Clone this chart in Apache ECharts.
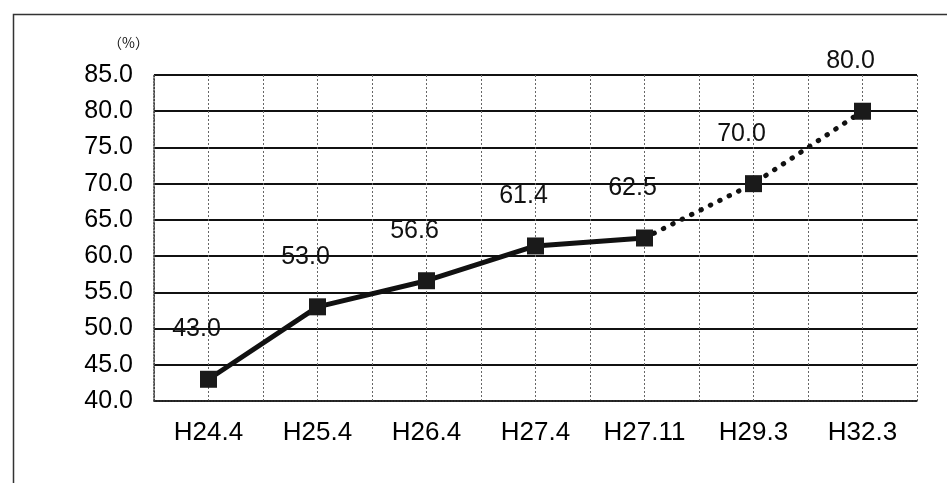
<!DOCTYPE html>
<html>
<head>
<meta charset="utf-8">
<script src="https://cdn.jsdelivr.net/npm/echarts@6/dist/echarts.min.js"></script>
<style>
html,body{margin:0;padding:0;background:#fff;}
#c{width:947px;height:483px;}
</style>
</head>
<body>
<div id="c"></div>
<script>
var categories = ['H24.4', 'H25.4', 'H26.4', 'H27.4', 'H27.11', 'H29.3', 'H32.3'];
var values = [43.0, 53.0, 56.6, 61.4, 62.5, 70.0, 80.0];
var actualCount = 5; // first 5 points are actual results, the rest are targets
var yTicks = [40, 45, 50, 55, 60, 65, 70, 75, 80, 85];
var unitLabel = '（%）';

var solidData = values.map(function (v, i) { return i < actualCount ? v : '-'; });
var dottedData = values.map(function (v, i) { return i >= actualCount - 1 ? v : '-'; });

var chart = echarts.init(document.getElementById('c'));
var font = 'Arial, "Liberation Sans", sans-serif';
chart.setOption({
  animation: false,
  backgroundColor: '#fff',
  grid: { left: 154, right: 30, top: 75, bottom: 82 },
  graphic: [
    { type: 'rect', left: 11, top: 12, shape: { width: 1000, height: 1000 },
      style: { fill: 'none', stroke: '#333', lineWidth: 1.5 }, z: 0 },
    { type: 'text', left: 108, top: 36,
      style: { text: unitLabel, font: '14px "Noto Sans CJK JP", sans-serif', fill: '#111' } }
  ],
  xAxis: [
    {
      type: 'category', data: categories, boundaryGap: true,
      axisLine: { show: true, lineStyle: { color: '#333', width: 1.5, type: 'dotted' } },
      axisTick: { show: false },
      axisLabel: { fontSize: 26, color: '#000', fontFamily: font, margin: 19 },
      splitLine: { show: false }
    },
    {
      type: 'value', min: 0, max: categories.length * 2, interval: 1,
      position: 'bottom', show: true,
      axisLine: { show: false }, axisTick: { show: false }, axisLabel: { show: false },
      splitLine: { show: true, lineStyle: { color: '#666', width: 1, type: [2, 2] } }
    }
  ],
  yAxis: {
    type: 'value', min: yTicks[0], max: yTicks[yTicks.length - 1], interval: 5,
    axisLine: { show: true, lineStyle: { color: '#333', width: 1.5, type: 'dotted' } },
    axisTick: { show: false },
    axisLabel: { fontSize: 25, color: '#000', fontFamily: font, margin: 21,
      formatter: function (v) { return v.toFixed(1); } },
    splitLine: { show: true, lineStyle: { color: '#111', width: 2 } }
  },
  series: [
    {
      type: 'line', data: solidData, xAxisIndex: 0, showSymbol: false,
      lineStyle: { color: '#111', width: 5 }, z: 3
    },
    {
      type: 'line', data: dottedData, xAxisIndex: 0, showSymbol: false,
      lineStyle: { color: '#111', width: 5, type: [0.5, 10], cap: 'round' }, z: 3
    },
    {
      type: 'scatter', data: values, xAxisIndex: 0, symbol: 'rect', symbolSize: 17,
      itemStyle: { color: '#1a1a1a', opacity: 1 }, z: 4,
      label: {
        show: true, position: 'inside', offset: [-12, -50],
        fontSize: 25, color: '#111', fontFamily: font,
        formatter: function (p) { return p.value.toFixed(1); }
      }
    }
  ]
});
</script>
</body>
</html>
